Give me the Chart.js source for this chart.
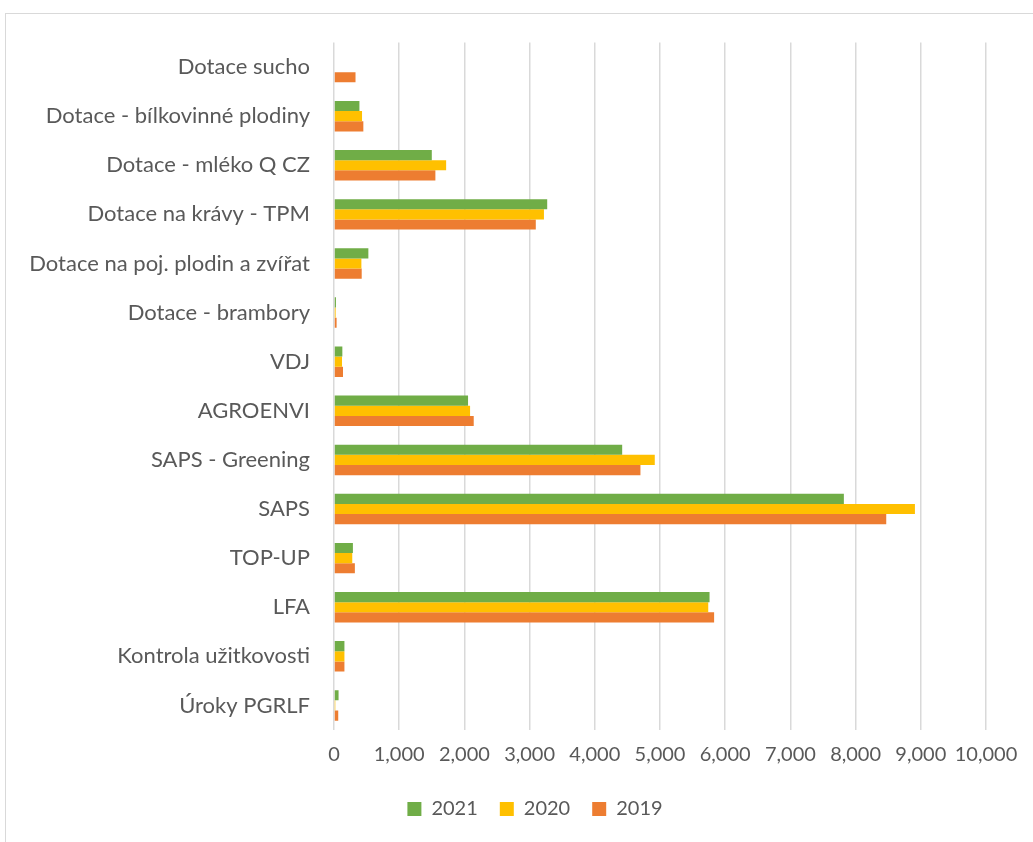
<!DOCTYPE html>
<html>
<head>
<meta charset="utf-8">
<script src="https://cdn.jsdelivr.net/npm/chart.js@4"></script>
<style>
  html, body { margin: 0; padding: 0; background: #fff; overflow: hidden; }
  body { width: 1033px; height: 842px; position: relative; }
  #frame {
    position: absolute; left: 5px; top: 13px;
    width: 1100px; height: 900px;
    border: 1px solid #d9d9d9; box-sizing: border-box;
  }
  #wrap { position: absolute; left: 5px; top: 13px; width: 1060px; height: 829px; }
</style>
</head>
<body>
<div id="frame"></div>
<div id="wrap"><canvas id="chart"></canvas></div>
<script>
// Kategorie (shora dolů)
const categories = [
  'Dotace sucho',
  'Dotace - bílkovinné plodiny',
  'Dotace - mléko Q CZ',
  'Dotace na krávy - TPM',
  'Dotace na poj. plodin a zvířat',
  'Dotace - brambory',
  'VDJ',
  'AGROENVI',
  'SAPS - Greening',
  'SAPS',
  'TOP-UP',
  'LFA',
  'Kontrola užitkovosti',
  'Úroky PGRLF',
];

const values2021 = [0, 390, 1500, 3270, 527, 30, 128, 2056, 4420, 7820, 290, 5760, 160, 70];
const values2020 = [0, 430, 1720, 3220, 420, 25, 123, 2087, 4920, 8910, 280, 5740, 160, 20];
const values2019 = [330, 450, 1555, 3095, 425, 40, 138, 2143, 4700, 8470, 320, 5830, 160, 65];

const xTicks = [0, 1000, 2000, 3000, 4000, 5000, 6000, 7000, 8000, 9000, 10000];

const COLOR = {
  y2021: '#70AD47',
  y2020: '#FFC000',
  y2019: '#ED7D31',
  grid:  '#d9d9d9',
  text:  '#595959',
};

Chart.defaults.font.family = 'Lato, "Open Sans", sans-serif';
Chart.defaults.color = COLOR.text;

new Chart(document.getElementById('chart').getContext('2d'), {
  type: 'bar',
  data: {
    labels: categories,
    datasets: [
      { label: '2021', data: values2021, backgroundColor: COLOR.y2021 },
      { label: '2020', data: values2020, backgroundColor: COLOR.y2020 },
      { label: '2019', data: values2019, backgroundColor: COLOR.y2019 },
    ],
  },
  options: {
    indexAxis: 'y',
    responsive: true,
    maintainAspectRatio: false,
    animation: false,
    categoryPercentage: 0.62,
    barPercentage: 1.0,
    layout: { padding: { top: 29.5, right: 0, bottom: 13, left: 0 } },
    plugins: {
      legend: {
        position: 'bottom',
        labels: {
          boxWidth: 14, boxHeight: 14, padding: 22,
          color: COLOR.text,
          font: { size: 20 },
        },
      },
      tooltip: { enabled: false },
    },
    scales: {
      x: {
        min: 0, max: 10000,
        afterBuildTicks: s => { s.ticks = xTicks.map(v => ({ value: v })); },
        afterFit: s => { s.height = 47; },
        grid: { color: COLOR.grid, lineWidth: 1.5, drawTicks: false },
        border: { display: false },
        ticks: {
          padding: 12.5,
          autoSkip: false,
          maxRotation: 0,
          color: COLOR.text,
          font: { size: 20 },
          callback: v => v.toLocaleString('en-US'),
        },
      },
      y: {
        afterFit: s => { s.width = 329; },
        // mezera mezi popisky a grafem přes neviditelné značky
        grid: {
          display: true, drawOnChartArea: false, drawTicks: true,
          tickLength: 24, tickColor: 'rgba(0,0,0,0)',
        },
        border: { display: false },
        ticks: {
          padding: 0,
          color: COLOR.text,
          font: { size: 22 },
          autoSkip: false,
        },
      },
      // prázdná osa vpravo, jen kvůli místu
      yPad: {
        type: 'category',
        axis: 'y',
        position: 'right',
        afterFit: s => { s.width = 79; },
        grid: { display: false, drawTicks: false },
        border: { display: false },
        ticks: { display: false },
      },
    },
  },
});
</script>
</body>
</html>
